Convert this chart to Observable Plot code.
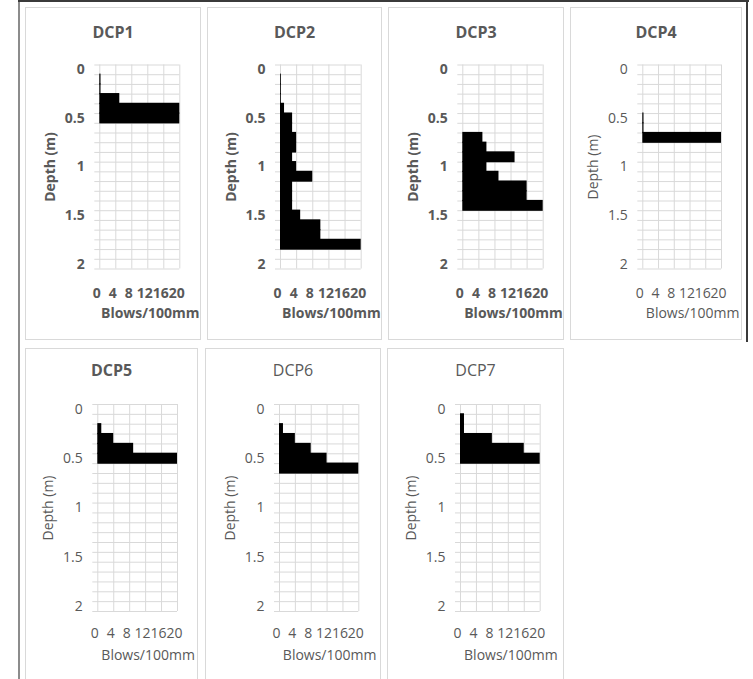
<!DOCTYPE html>
<html><head><meta charset="utf-8">
<script src="https://cdn.jsdelivr.net/npm/d3@7"></script>
<script src="https://cdn.jsdelivr.net/npm/@observablehq/plot@0.6"></script>
<style>
body{margin:0;background:#fff;}
#root{position:relative;width:753px;height:679px;overflow:hidden;background:#fff;font-family:"Open Sans",sans-serif;}
.box{position:absolute;border:1px solid #d9d9d9;box-sizing:border-box;background:#fff;}
.ttl{position:absolute;text-align:center;font-size:16px;line-height:20px;color:#595959;font-family:"Open Sans",sans-serif;}
.abs{position:absolute;}
svg{position:absolute;overflow:visible;}
</style></head><body><div id="root"></div>
<script>
// depth categories (m), one reading per 100 mm
const depths = [0,0.1,0.2,0.3,0.4,0.5,0.6,0.7,0.8,0.9,1.0,1.1,1.2,1.3,1.4,1.5,1.6,1.7,1.8,1.9,2.0];
// blows per 100 mm for each test
const dcp1 = [0,0.3,0.3,5,20,20,0,0,0,0,0,0,0,0,0,0,0,0,0,0,0];
const dcp2 = [0,0.2,0.2,0.2,1,3,3,4,4,3,4,8,3,3,3,5,10,10,20,0,0];
const dcp3 = [0,0,0,0,0,0,0,5,6,13,6,9,16,16,20,0,0,0,0,0,0];
const dcp4 = [0,0,0,0,0,0.3,0.3,20,0,0,0,0,0,0,0,0,0,0,0,0,0];
const dcp5 = [0,0,1,4,9,20,0,0,0,0,0,0,0,0,0,0,0,0,0,0,0];
const dcp6 = [0,0,1,4,8,12,20,0,0,0,0,0,0,0,0,0,0,0,0,0,0];
const dcp7 = [0,1,1,8,16,20,0,0,0,0,0,0,0,0,0,0,0,0,0,0,0];
const titles = ["DCP1","DCP2","DCP3","DCP4","DCP5","DCP6","DCP7"];
const xTicks = [0,4,8,12,16,20];
const yTicks = [0,0.5,1,1.5,2];
const xTitle = "Blows/100mm";
const yTitle = "Depth (m)";

// layout (page pixels): box [l,t,r,b], plot area [l,t,r,b]
const layout = [
  {box:[25,7,201,340],  plot:[99.3,64.5,179.3,268.5], bold:true,  titleBold:true,  titleY:22},
  {box:[207,7,382,340], plot:[280,64.5,360.7,268.5],  bold:true,  titleBold:true,  titleY:22},
  {box:[388,7,564,340], plot:[462.3,64.5,542.7,268.5],bold:true,  titleBold:true,  titleY:22},
  {box:[570,7,742,340], plot:[642.3,64.5,721,268.5],  bold:false, titleBold:true,  titleY:22},
  {box:[25,348,198,700],plot:[97.3,404,177,611],      bold:false, titleBold:true,  titleY:360},
  {box:[205,348,381,700],plot:[279,404,358.3,611],    bold:false, titleBold:false, titleY:360},
  {box:[387,348,564,700],plot:[460,404,539.7,611],    bold:false, titleBold:false, titleY:360}
];
const series = [dcp1,dcp2,dcp3,dcp4,dcp5,dcp6,dcp7];

const root = document.getElementById("root");
function addDiv(cls, l, t, w, h, bg){
  const d = document.createElement("div");
  d.className = cls; d.style.left=l+"px"; d.style.top=t+"px"; d.style.width=w+"px"; d.style.height=h+"px";
  if(bg) d.style.background = bg;
  root.appendChild(d); return d;
}
// outer frame lines of the figure
addDiv("abs",18,0,2,679,"#8c8c8c");
addDiv("abs",18,0,731,2,"#3a3a3a");
addDiv("abs",746,0,2,342,"#3a3a3a");

const half = 0.05;
const bounds = depths.map(d => d - half).concat([depths[depths.length-1] + half]);

layout.forEach((L, i) => {
  const [bl,bt,br,bb] = L.box, [pl,pt,pr,pb] = L.plot;
  const W = br-bl, H = bb-bt;
  addDiv("box", bl, bt, W, H);
  const t = document.createElement("div");
  t.className = "ttl"; t.textContent = titles[i];
  t.style.left = bl+"px"; t.style.width = W+"px"; t.style.top = L.titleY+"px";
  t.style.fontWeight = L.titleBold ? "bold" : "normal";
  root.appendChild(t);

  const rows = depths.map((d,k) => ({depth:d, blows:series[i][k]})).filter(r => r.blows > 0);
  const fw = L.bold ? "bold" : "normal";
  const chart = Plot.plot({
    width: W, height: H,
    marginLeft: pl-bl, marginRight: br-pr, marginTop: pt-bt, marginBottom: bb-pb,
    style: {fontFamily:"'Open Sans', sans-serif", fontSize:"14px", color:"#595959", fontWeight:fw, background:"transparent", overflow:"visible"},
    x: {domain:[0,20]},
    y: {domain:[-half, 2+half], reverse:true},
    marks: [
      Plot.ruleY(bounds, {stroke:"#d9d9d9", strokeWidth:1, insetLeft:-5}),
      Plot.ruleX(xTicks, {stroke:"#d9d9d9", strokeWidth:1}),
      Plot.rectX(rows, {y1: r => r.depth - half, y2: r => r.depth + half, x1: 0, x2: "blows", fill:"black", insetTop:-0.6, insetBottom:-0.6}),
      Plot.axisX({ticks:xTicks, tickSize:0, tickPadding:L.titleY>100?17:19, label:null, dx:-3, fontWeight:fw, tickFormat:d => String(d)}),
      Plot.axisY({ticks:yTicks, tickSize:0, tickPadding:15, label:null, fontWeight:fw, tickFormat:d => String(d)}),
      Plot.text([xTitle], {frameAnchor:"bottom", lineAnchor:"middle", dy:44.5, dx:10.5, fontSize:14, fontWeight:fw, fill:"#595959"}),
      Plot.text([yTitle], {frameAnchor:"left", rotate:-90, textAnchor:"middle", lineAnchor:"middle", dx:-49, fontSize:14, fontWeight:fw, fill:"#595959"})
    ]
  });
  chart.style.left = bl+"px"; chart.style.top = bt+"px";
  root.appendChild(chart);
});
</script>
</body></html>
